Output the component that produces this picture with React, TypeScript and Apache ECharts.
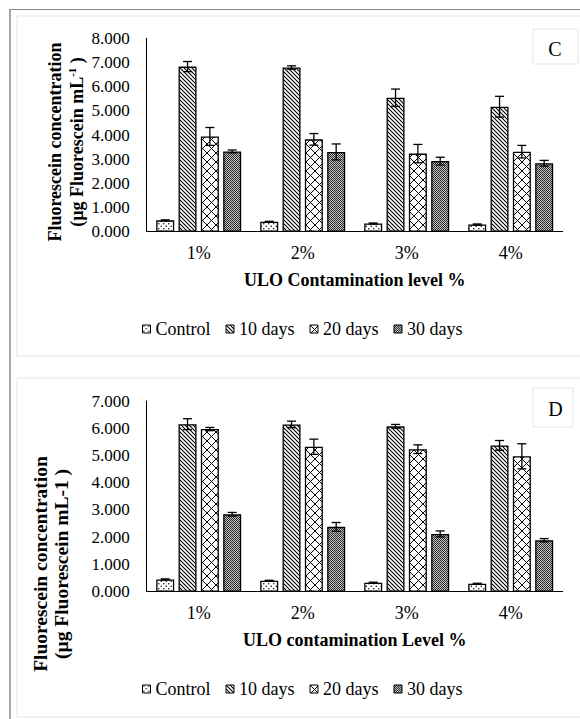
import React, { useEffect, useRef } from 'react';
import * as echarts from 'echarts';

const categories = ['1%', '2%', '3%', '4%'];
const seriesNames = ['Control', '10 days', '20 days', '30 days'];

// Panel C means
const cControl = [0.47, 0.41, 0.34, 0.3];
const c10 = [6.83, 6.79, 5.54, 5.17];
const c20 = [3.94, 3.82, 3.23, 3.31];
const c30 = [3.32, 3.3, 2.92, 2.83];
// Panel C error bars (+/-)
const cControlErr = [0.02, 0.02, 0.02, 0.02];
const c10Err = [0.21, 0.07, 0.36, 0.43];
const c20Err = [0.37, 0.24, 0.38, 0.26];
const c30Err = [0.06, 0.33, 0.16, 0.12];

// Panel D means
const dControl = [0.45, 0.4, 0.33, 0.29];
const d10 = [6.15, 6.14, 6.07, 5.37];
const d20 = [5.97, 5.32, 5.23, 4.97];
const d30 = [2.84, 2.38, 2.12, 1.89];
// Panel D error bars (+/-)
const dControlErr = [0.02, 0.02, 0.02, 0.02];
const d10Err = [0.2, 0.12, 0.07, 0.18];
const d20Err = [0.06, 0.28, 0.16, 0.46];
const d30Err = [0.07, 0.16, 0.11, 0.06];

const cMax = 8;
const dMax = 7;

const FONT = "'Liberation Serif', 'Times New Roman', serif";
const BAR_W = 18;
const BAR_GAP = 0.24;
const offsetOf = (i: number) => (i - 1.5) * (BAR_W * (1 + BAR_GAP));

function svgTile(w: number, h: number, body: string) {
  const svg = `<svg xmlns="http://www.w3.org/2000/svg" width="${w}" height="${h}" viewBox="0 0 ${w} ${h}"><rect width="${w}" height="${h}" fill="#ffffff"/>${body}</svg>`;
  return {
    image: 'data:image/svg+xml;charset=utf-8,' + encodeURIComponent(svg),
    repeat: 'repeat',
    imageWidth: w,
    imageHeight: h,
  };
}

const patterns = [
  svgTile(5, 5, '<circle cx="1.25" cy="1.25" r="0.75" fill="#000"/><circle cx="3.75" cy="3.75" r="0.75" fill="#000"/>'),
  svgTile(4, 4, '<path d="M-1,-1L5,5M-1,3L1,5M3,-1L5,1" stroke="#000" stroke-width="1.1" fill="none"/>'),
  svgTile(9, 9, '<path d="M-1,-1L10,10M10,-1L-1,10" stroke="#000" stroke-width="1" fill="none"/>'),
  svgTile(2, 2, '<rect width="2" height="2" fill="#c4c4c4"/><rect width="1" height="1" fill="#2a2a2a"/><rect x="1" y="1" width="1" height="1" fill="#2a2a2a"/>'),
];

function buildPanel(gi: number, values: number[][], errs: number[][]) {
  const bars = seriesNames.map((name, i) => ({
    type: 'bar',
    name,
    xAxisIndex: gi,
    yAxisIndex: gi,
    data: values[i],
    barWidth: BAR_W,
    barGap: BAR_GAP * 100 + '%',
    itemStyle: { color: patterns[i], borderColor: '#000', borderWidth: 1.3 },
    emphasis: { disabled: true },
    silent: true,
  }));
  const errData: number[][] = [];
  values.forEach((vals, s) =>
    vals.forEach((v, c) => errData.push([c, s, v - errs[s][c], v + errs[s][c]]))
  );
  const errSeries = {
    type: 'custom',
    xAxisIndex: gi,
    yAxisIndex: gi,
    data: errData,
    encode: { x: 0, y: [2, 3] },
    silent: true,
    z: 10,
    renderItem: (_params: any, api: any) => {
      const c = api.value(0);
      const s = api.value(1);
      const lo = api.coord([c, api.value(2)]);
      const hi = api.coord([c, api.value(3)]);
      const x = lo[0] + offsetOf(s);
      const style = { stroke: '#000', lineWidth: 1.3 };
      return {
        type: 'group',
        children: [
          { type: 'line', shape: { x1: x, y1: lo[1], x2: x, y2: hi[1] }, style },
          { type: 'line', shape: { x1: x - 4.5, y1: lo[1], x2: x + 4.5, y2: lo[1] }, style },
          { type: 'line', shape: { x1: x - 4.5, y1: hi[1], x2: x + 4.5, y2: hi[1] }, style },
        ],
      };
    },
  };
  return [...bars, errSeries];
}

function xAxisFor(gi: number, name: string) {
  return {
    type: 'category',
    gridIndex: gi,
    data: categories,
    axisLine: { show: true, lineStyle: { color: '#000', width: 1 } },
    axisTick: { show: false },
    axisLabel: { fontSize: 18, fontFamily: FONT, color: '#000', margin: 12 },
    name,
    nameLocation: 'middle',
    nameGap: 39,
    nameTextStyle: { fontSize: 18, fontWeight: 'bold', fontFamily: FONT, color: '#000' },
  };
}

function yAxisFor(gi: number, max: number) {
  return {
    type: 'value',
    gridIndex: gi,
    min: 0,
    max,
    interval: 1,
    axisLine: { show: true, lineStyle: { color: '#000', width: 1 } },
    axisTick: { show: false },
    splitLine: { show: false },
    axisLabel: {
      formatter: (v: number) => v.toFixed(3),
      fontSize: 17,
      fontFamily: FONT,
      color: '#000',
      margin: 17,
    },
  };
}

function legendFor(top: number) {
  return {
    data: seriesNames,
    left: 142,
    top,
    padding: 0,
    orient: 'horizontal',
    itemWidth: 8,
    itemHeight: 8,
    itemGap: 15,
    icon: 'rect',
    selectedMode: false,
    itemStyle: { borderColor: '#000', borderWidth: 1 },
    textStyle: { fontSize: 18, fontFamily: FONT, color: '#000' },
  };
}

export default function App() {
  const ref = useRef<HTMLDivElement>(null);
  useEffect(() => {
    if (!ref.current) return;
    const chart = echarts.init(ref.current, undefined, { renderer: 'svg' });
    const titleRich = {
      t: { fontSize: 18, fontWeight: 'bold', fontFamily: FONT, lineHeight: 22, fill: '#000' },
      s: { fontSize: 11, fontWeight: 'bold', fontFamily: FONT, verticalAlign: 'top', fill: '#000' },
    };
    const titleRichD = {
      t: { fontSize: 19.5, fontWeight: 'bold', fontFamily: FONT, lineHeight: 21, fill: '#000' },
    };
    const option: any = {
      animation: false,
      backgroundColor: '#ffffff',
      grid: [
        { left: 146.7, top: 38.3, width: 416, height: 193.4 },
        { left: 146.7, top: 401, width: 416, height: 190.7 },
      ],
      xAxis: [xAxisFor(0, 'ULO Contamination level %'), xAxisFor(1, 'ULO contamination Level %')],
      yAxis: [yAxisFor(0, cMax), yAxisFor(1, dMax)],
      legend: [legendFor(320), legendFor(680)],
      series: [
        ...buildPanel(0, [cControl, c10, c20, c30], [cControlErr, c10Err, c20Err, c30Err]),
        ...buildPanel(1, [dControl, d10, d20, d30], [dControlErr, d10Err, d20Err, d30Err]),
      ],
      graphic: [
        { type: 'line', shape: { x1: 10, y1: 9, x2: 10, y2: 719 }, style: { stroke: '#8a8a8a', lineWidth: 1.5 } },
        { type: 'line', shape: { x1: 10, y1: 9.5, x2: 580, y2: 9.5 }, style: { stroke: '#8a8a8a', lineWidth: 1.2 } },
        { type: 'rect', shape: { x: 17, y: 16, width: 600, height: 340 }, style: { fill: 'none', stroke: '#e4e4e4', lineWidth: 1 } },
        { type: 'rect', shape: { x: 17, y: 378, width: 600, height: 339 }, style: { fill: 'none', stroke: '#e4e4e4', lineWidth: 1 } },
        { type: 'rect', shape: { x: 533, y: 29, width: 45, height: 35 }, style: { fill: '#fff', stroke: '#e6e6e6', lineWidth: 1 } },
        { type: 'rect', shape: { x: 533, y: 388, width: 40, height: 39 }, style: { fill: '#fff', stroke: '#e6e6e6', lineWidth: 1 } },
        {
          type: 'text', x: 555, y: 49,
          style: { text: 'C', fontSize: 20, fontFamily: FONT, fill: '#000', align: 'center', verticalAlign: 'middle' },
        },
        {
          type: 'text', x: 555.5, y: 409,
          style: { text: 'D', fontSize: 20, fontFamily: FONT, fill: '#000', align: 'center', verticalAlign: 'middle' },
        },
        {
          type: 'text', x: 66, y: 142, rotation: Math.PI / 2,
          style: {
            text: '{t|Fluorescein concentration}\n{t|(µg Fluorescein mL}{s|-1}{t| )}',
            rich: titleRich,
            align: 'center',
            verticalAlign: 'middle',
          },
        },
        {
          type: 'text', x: 50.5, y: 564, rotation: Math.PI / 2,
          style: {
            text: '{t|Fluorescein concentration}\n{t|(µg Fluorescein mL-1 )}',
            rich: titleRichD,
            align: 'center',
            verticalAlign: 'middle',
          },
        },
      ],
    };
    chart.setOption(option);
    return () => chart.dispose();
  }, []);
  return (
    <div
      ref={ref}
      style={{ position: 'absolute', left: 0, top: 0, width: 580, height: 719, background: '#fff' }}
    />
  );
}
